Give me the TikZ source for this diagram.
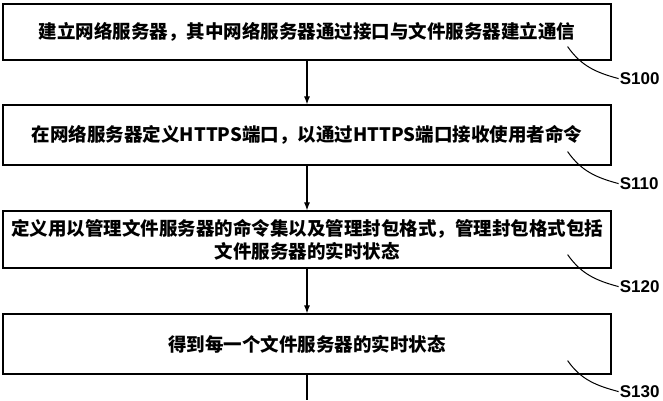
\documentclass[tikz,border=0pt]{standalone}
\usepackage{fontspec}
\usepackage{tikz}
\usetikzlibrary{positioning,arrows.meta}
\newfontfamily\cjk{Noto Sans CJK SC}
\newfontfamily\lblfont{Liberation Sans}

\begin{document}
\begin{tikzpicture}[x=1pt,y=1pt]
\tikzset{stepbox/.style={rectangle,draw=black,line width=1.2pt,minimum width=608pt,
  align=center,inner sep=0pt,font=\cjk\bfseries\fontsize{18.5}{23}\selectfont}}
\tikzset{S/.style={anchor=west,inner sep=1pt,font=\lblfont\bfseries\fontsize{17}{17}\selectfont}}
\tikzset{flow/.style={line width=1.1pt,-{Latex[length=8pt,width=6pt]}}}
\tikzset{lead/.style={line width=1pt}}

  \useasboundingbox (0,0) rectangle (663,400);

  \node[stepbox,minimum height=56pt] (b1) at (307,368)   {建立网络服务器，其中网络服务器通过接口与文件服务器建立通信};
  \node[stepbox,minimum height=60pt] (b2) at (307,265)   {在网络服务器定义HTTPS端口，以通过HTTPS端口接收使用者命令};
  \node[stepbox,minimum height=57pt] (b3) at (307,160.5) {定义用以管理文件服务器的命令集以及管理封包格式，管理封包格式包括\\文件服务器的实时状态};
  \node[stepbox,minimum height=60pt] (b4) at (307,56)    {得到每一个文件服务器的实时状态};
  \coordinate (end) at (307,0);

  \draw[flow] (b1) -- (b2);
  \draw[flow] (b2) -- (b3);
  \draw[flow] (b3) -- (b4);
  \draw[line width=1.1pt] (b4) -- (end);

  \node[S] (l1) at ([shift={(7,-18)}]b1.south east) {S100};
  \node[S] (l2) at ([shift={(7,-18)}]b2.south east) {S110};
  \node[S] (l3) at ([shift={(7,-18)}]b3.south east) {S120};
  \node[S] (l4) at ([shift={(7,-17)}]b4.south east) {S130};

  \coordinate (c1) at ([shift={(-44,14)}]b1.south east);
  \coordinate (c2) at ([shift={(-44,14)}]b2.south east);
  \coordinate (c3) at ([shift={(-44,14)}]b3.south east);
  \coordinate (c4) at ([shift={(-44,14)}]b4.south east);

  \draw[lead] (c1) to[out=-55,in=165] (l1.west);
  \draw[lead] (c2) to[out=-55,in=165] (l2.west);
  \draw[lead] (c3) to[out=-55,in=165] (l3.west);
  \draw[lead] (c4) to[out=-55,in=165] (l4.west);
\end{tikzpicture}
\end{document}
